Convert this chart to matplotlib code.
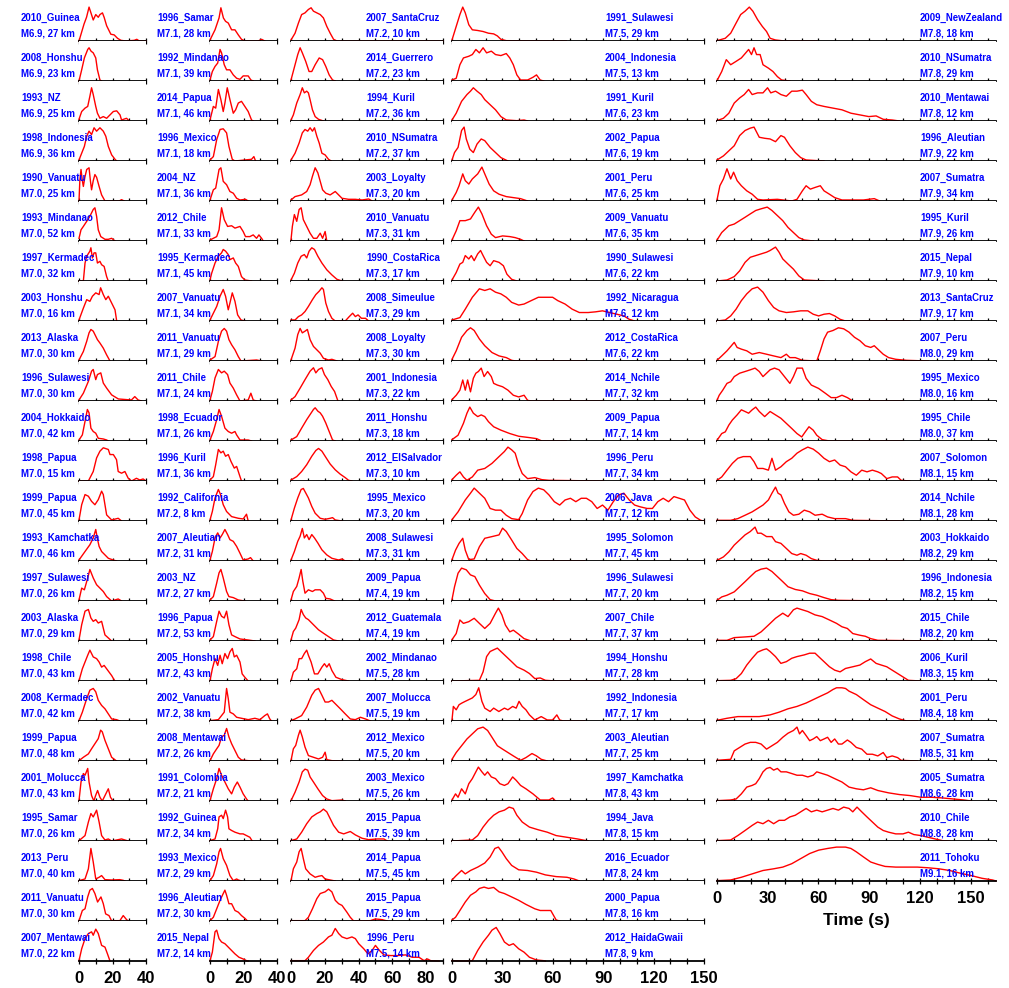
import matplotlib
matplotlib.use("Agg")
import matplotlib.pyplot as plt
from matplotlib import font_manager as fm

# ---- data: source time functions, (time s, normalised moment rate) ----
col1_names = ["2010_Guinea", "2008_Honshu", "1993_NZ", "1998_Indonesia", "1990_Vanuatu",
              "1993_Mindanao", "1997_Kermadec", "2003_Honshu", "2013_Alaska", "1996_Sulawesi",
              "2004_Hokkaido", "1998_Papua", "1999_Papua", "1993_Kamchatka", "1997_Sulawesi",
              "2003_Alaska", "1998_Chile", "2008_Kermadec", "1999_Papua", "2001_Molucca",
              "1995_Samar", "2013_Peru", "2011_Vanuatu", "2007_Mentawai"]
col1_mags = [6.9, 6.9, 6.9, 6.9] + [7.0] * 20
col1_depths = [27, 23, 25, 36, 25, 52, 32, 16, 30, 30, 42, 15, 45, 46, 26, 29, 43, 42, 48, 43,
               26, 40, 30, 22]
col1_curves = [
    [(0,0),(1.5,.25),(3,.5),(4.5,.7),(6,1),(7,.85),(8.5,.62),(10,.78),(11.5,.7),(12.5,.78),(14,.83),(15,.7),(16.5,.45),(18,.3),(19,.2),(21,.18),(23,.08),(25,.02),(28,0),(33,.02),(34.5,.05),(36,0),(40,0)],
    [(0,0),(1.6,.33),(3.2,.68),(5.2,.93),(6,.98),(7.2,.88),(8.5,.83),(10,.68),(11,.33),(12.5,.03),(13.5,0)],
    [(0,.05),(1.6,.28),(3.6,.38),(5.2,.43),(6.5,.73),(7.5,.98),(8.5,.78),(10,.43),(11,.23),(12.5,.08),(14.5,.13),(16.5,.08),(18.5,.18),(20.5,.28),(22.5,.3),(24.5,.18),(25.4,.03),(28.4,.08),(30,0)],
    [(0,.03),(2,.28),(3.2,.43),(4.6,.73),(6,.88),(7.5,.78),(9,.98),(10.5,.88),(12.5,.98),(14.5,.88),(16,.73),(17.5,.43),(19.5,.18),(21.5,.05),(22.5,0)],
    [(0,0),(0.5,.6),(1.2,.93),(2,.6),(2.6,.43),(3.5,.7),(4.6,.93),(6,.98),(6.8,.6),(7.5,.33),(8.5,.6),(9.5,.78),(10.5,.7),(12,.43),(13.5,.18),(15.5,0),(24,0),(25.4,.04),(27,0)],
    [(0,.08),(1.2,.33),(2.6,.43),(4.6,.58),(6.5,.73),(8.5,.93),(9.5,.98),(10.5,.73),(11.5,.33),(13,.13),(15.5,.05),(17.5,.05),(19.5,.08),(21.5,0)],
    [(0,0),(2.6,0),(3.6,.53),(4.6,.73),(6.5,.88),(7.1,.98),(8,.68),(9,.83),(10,.83),(11,.53),(12.5,.58),(13.5,.48),(15,.43),(16.5,.13),(17.5,0)],
    [(0,.03),(2.6,.38),(4.6,.63),(6.5,.58),(8,.73),(10,.83),(12,.78),(12.9,.98),(14.5,.78),(16,.63),(17.5,.73),(19.5,.53),(21.5,.33),(22.5,0)],
    [(0,.03),(2.6,.28),(4.6,.58),(6,.83),(7.1,.93),(8.5,.88),(10,.73),(11,.63),(12.5,.53),(14.5,.38),(16.5,.18),(18.5,0)],
    [(0,.03),(2.6,.23),(5.6,.58),(7.5,.88),(8.5,.93),(10,.63),(11,.78),(13,.83),(14.5,.53),(16.5,.38),(19.5,.18),(23.5,.06),(31.3,.03),(33.3,.13),(35.3,.03),(37.3,0)],
    [(0,.03),(2,.18),(3.6,.58),(5,.93),(6,.83),(7.1,.38),(8.5,.28),(10,.23),(11.5,.08),(14.5,.06),(16.5,.03),(17.5,0)],
    [(0,0),(5.6,0),(8.5,.28),(10.5,.68),(12.5,.88),(14.5,.98),(17.5,.93),(18.5,.78),(20.5,.78),(22.4,.63),(23.4,.28),(25.4,.23),(27.4,.28),(29.4,.08),(31.4,0),(34.3,.08),(36.3,.03),(38.3,.06),(40,0)],
    [(0,.03),(1.6,.48),(3.6,.78),(5.6,.73),(7.5,.58),(9.5,.48),(11.5,.63),(13.5,.88),(14.5,.78),(16.5,.18),(19.5,.03),(23.4,.08),(25.4,0)],
    [(0,.03),(3.6,.28),(6.5,.48),(8.5,.68),(10,.93),(10.9,.68),(12,.43),(13.5,.28),(15.5,.18),(17.5,.08),(20.4,.03),(22.4,0)],
    [(0,.03),(1.6,.38),(3.2,.33),(5.2,.68),(6.5,.93),(8.5,.68),(10.5,.48),(12.5,.38),(14.5,.28),(16.5,.13),(19.5,0),(23.4,.06),(25.4,0)],
    [(0,.03),(1.6,.48),(3.6,.88),(5.6,.93),(7.1,.68),(8.5,.58),(10,.63),(11.5,.53),(13.5,.58),(15.5,.18),(19.5,0)],
    [(0,.01),(2,.36),(3.6,.56),(5.2,.76),(6.5,.91),(8.5,.71),(10.5,.66),(12,.56),(13.5,.41),(15,.46),(16.5,.36),(19.5,.16),(21.4,0)],
    [(0,.01),(2,.26),(4.6,.66),(6.5,.91),(8.5,.96),(10,.86),(11.5,.61),(13.5,.46),(15.5,.36),(17.5,.21),(19.5,.06),(22.4,.04),(24.4,0)],
    [(0,.01),(2.6,.11),(5.6,.21),(7.5,.36),(9.5,.51),(11.5,.66),(12.9,.91),(13.9,.86),(15.5,.61),(17.5,.36),(19.5,.11),(22.4,0)],
    [(0,.01),(1.2,.56),(2.6,.81),(3.6,.76),(5.2,.96),(6,.56),(7.5,.16),(8.9,0),(9.9,.16),(11.1,.31),(12.5,.11),(13.9,0),(15.5,.16),(17.5,.36),(18.8,.11),(20.4,0)],
    [(0,.01),(3.6,.16),(5.6,.56),(7.1,.81),(8.5,.71),(10.5,.91),(12,.56),(13.5,.16),(15.5,.03),(17.5,.06),(19.5,0),(25.4,.06),(29.4,0)],
    [(0,.01),(3.6,.06),(5.6,.36),(7.1,.96),(8.5,.56),(10,.06),(12,.11),(13.5,.16),(15.5,.04),(19.5,.03),(24.4,.04),(26.4,.02),(27.4,0)],
    [(0,.01),(2,.31),(3.6,.36),(5.2,.71),(6.5,.91),(8,.96),(9.5,.81),(11.1,.56),(13.1,.71),(14.5,.51),(15.9,.21),(17.9,.16),(19.4,.01),(24.4,.01),(26.4,.16),(28.4,.04),(29.4,0)],
    [(0,.01),(1.6,.36),(3.6,.66),(5.6,.81),(7.5,.86),(8.5,.76),(10,.94),(11.5,.81),(13.5,.46),(15.5,.41),(17,.21),(18.5,0)],
]

col2_names = ["1996_Samar", "1992_Mindanao", "2014_Papua", "1996_Mexico", "2004_NZ", "2012_Chile",
              "1995_Kermadec", "2007_Vanuatu", "2011_Vanuatu", "2011_Chile", "1998_Ecuador",
              "1996_Kuril", "1992_California", "2007_Aleutian", "2003_NZ", "1996_Papua",
              "2005_Honshu", "2002_Vanuatu", "2008_Mentawai", "1991_Colombia", "1992_Guinea",
              "1993_Mexico", "1996_Aleutian", "2015_Nepal"]
col2_mags = [7.1] * 12 + [7.2] * 12
col2_depths = [28, 39, 46, 18, 36, 33, 45, 34, 29, 24, 26, 36, 8, 31, 27, 53, 43, 38, 26, 21,
               34, 29, 30, 14]
col2_curves = [
    [(0,.03),(3,.33),(5.4,.68),(6.5,.98),(8,.68),(9.3,.58),(10.9,.53),(12.9,.33),(14.9,.33),(16.9,.18),(18.8,.05),(20.8,0),(28.8,0),(30.8,.05),(32.7,0)],
    [(0,.03),(1.4,.28),(3,.43),(4.6,.53),(6,.93),(6.9,.83),(8.5,.48),(9.9,.33),(11.9,.33),(13.9,.18),(15.9,.08),(17.9,.05),(19.8,.15),(22.8,.15),(24.4,.03),(25.8,0)],
    [(0,.03),(2,.43),(3.4,.38),(5,.93),(6.5,.63),(7.9,.28),(8.9,.53),(10.3,.98),(11.9,.63),(13.9,.23),(15.3,.33),(16.9,.53),(18.8,.58),(20.8,.43),(22.8,.28),(24.8,.03),(25.8,0)],
    [(0,.03),(2,.13),(4,.63),(6,.93),(7.9,.95),(9.9,.83),(11.3,.43),(13.3,.05),(14.9,0),(20.8,.03),(24.8,.05),(26.2,.13),(27.2,0)],
    [(0,.03),(2,.33),(3.4,.38),(5.4,.93),(6.5,.98),(7.9,.58),(9.9,.48),(11.9,.28),(13.9,.23),(15.9,.08),(17.9,.03),(21.2,.05),(22.8,0)],
    [(0,.03),(4,.13),(5.4,.33),(6.9,.98),(8.5,.63),(10.5,.43),(12.9,.45),(14.9,.38),(17.9,.43),(19.8,.28),(21.2,.13),(23.8,.13),(25.8,.18),(27.8,.08),(29.2,.18),(30.8,.08),(31.8,0)],
    [(0,.03),(1,.23),(3,.53),(5,.73),(6.9,.83),(7.9,.93),(9.3,.88),(10.9,.78),(11.9,.63),(13.9,.68),(15.3,.53),(16.9,.43),(18.8,.13),(20.8,.03),(24.8,0)],
    [(0,.03),(2,.23),(4,.43),(6,.73),(7.9,.93),(9.3,.73),(10.9,.33),(11.9,.53),(13.3,.83),(14.9,.58),(16.5,.18),(18.5,.03),(20.8,0)],
    [(0,.03),(3,.13),(5,.58),(6.9,.88),(8.5,.96),(9.9,.88),(11.3,.63),(12.9,.48),(14.9,.33),(16.9,.13),(18.5,0),(27.8,.03),(30.8,0)],
    [(0,.03),(1.4,.28),(3,.68),(5,.93),(6.9,.83),(8.5,.88),(10.5,.78),(11.9,.53),(13.9,.38),(15.9,.18),(17.9,0),(22.8,.03),(24.4,.23),(25.8,.03),(27.8,0)],
    [(0,.03),(2,.28),(4,.63),(5.4,.93),(6.9,.73),(8.9,.38),(10.9,.28),(12.9,.23),(14.9,.28),(15.9,.18),(17.9,.03),(22.8,.03),(24.8,0)],
    [(0,.03),(2,.13),(3.4,.48),(5,.93),(6.5,.83),(7.9,.88),(9.3,.73),(10.9,.78),(12.5,.58),(14.5,.38),(15.9,.43),(17.9,.13),(18.8,0)],
    [(0,.03),(1.4,.28),(3,.68),(5,.93),(6.3,.78),(7.9,.48),(9.9,.28),(12.9,.13),(16.9,.08),(19.8,.06),(21.8,.2),(22.8,0)],
    [(0,.03),(1.4,.28),(3,.68),(4.6,.83),(6,.68),(7.3,.78),(8.9,.93),(10.5,.78),(11.9,.63),(13.9,.58),(15.9,.43),(17.9,.23),(19.8,.03),(22.8,.06),(24.2,.1),(25.8,0)],
    [(0,.03),(2,.13),(4,.53),(5.4,.83),(6.5,.93),(7.9,.68),(9.9,.28),(11.3,.13),(13.9,.1),(16.9,.03),(20.8,0)],
    [(0,.03),(2,.13),(4,.58),(5.4,.88),(6.9,.73),(8.5,.68),(9.9,.88),(11.3,.48),(12.9,.18),(14.9,.13),(17.9,.06),(22.8,.03),(26.8,0)],
    [(0,.01),(1.4,.36),(3,.66),(4.6,.46),(6,.76),(7.3,.51),(8.9,.81),(10.5,.66),(11.9,.86),(13.3,.96),(14.5,.71),(15.9,.76),(17.9,.56),(19.2,.21),(20.8,.11),(22.8,0)],
    [(0,.01),(5,.04),(6.9,.16),(8.5,.26),(9.9,.96),(10.9,.66),(11.9,.26),(13.9,.21),(15.9,.11),(18.8,.08),(22.8,.04),(26.8,.08),(29.8,.04),(32.7,.16),(34.3,.21),(35.7,.06),(36.7,0)],
    [(0,.01),(2,.21),(4,.36),(5.4,.46),(6.9,.71),(8.5,.76),(9.9,.96),(11.3,.71),(12.9,.51),(14.9,.31),(16.9,.11),(18.8,.03),(22.8,.01),(30.8,0)],
    [(0,.01),(2,.36),(4,.66),(5.4,.96),(6.9,.76),(8.9,.56),(10.9,.36),(12.9,.21),(14.5,.41),(16.3,.56),(17.9,.41),(19.8,.21),(21.8,.06),(22.8,0)],
    [(0,.01),(3,.06),(4.6,.36),(5.4,.71),(6.9,.76),(7.9,.66),(9.3,.91),(10.5,.71),(11.3,.36),(12.9,.31),(14.9,.26),(17.9,.21),(19.8,.21),(21.8,.16),(23.8,.11),(25.2,0)],
    [(0,.01),(2,.16),(4,.51),(5.4,.86),(6.3,.96),(7.9,.66),(9.9,.46),(11.9,.16),(13.9,.01),(15.9,.06),(16.9,.03),(18.8,0)],
    [(0,.01),(2,.11),(4,.36),(6,.61),(7.9,.81),(8.9,.91),(9.9,.76),(11.3,.51),(12.9,.51),(14.9,.31),(16.9,.26),(18.8,.16),(20.8,.08),(22.4,0)],
    [(0,.01),(1.4,.26),(3,.86),(4,.91),(5.4,.66),(6.9,.56),(8.9,.51),(10.9,.41),(12.9,.31),(14.9,.21),(17.3,.11),(19.8,.06),(21.8,.01),(22.8,0)],
]

col3_names = ["2007_SantaCruz", "2014_Guerrero", "1994_Kuril", "2010_NSumatra", "2003_Loyalty",
              "2010_Vanuatu", "1990_CostaRica", "2008_Simeulue", "2008_Loyalty", "2001_Indonesia",
              "2011_Honshu", "2012_ElSalvador", "1995_Mexico", "2008_Sulawesi", "2009_Papua",
              "2012_Guatemala", "2002_Mindanao", "2007_Molucca", "2012_Mexico", "2003_Mexico",
              "2015_Papua", "2014_Papua", "2015_Papua", "1996_Peru"]
col3_mags = [7.2] * 4 + [7.3] * 10 + [7.4] * 2 + [7.5] * 8
col3_depths = [10, 23, 36, 37, 20, 31, 17, 29, 30, 22, 18, 10, 20, 31, 19, 19, 28, 19, 20, 26,
               39, 45, 29, 14]
col3_curves = [
    [(0,.03),(2.4,.23),(4.4,.53),(6.3,.78),(8.3,.83),(10.3,.93),(11.9,.98),(13.3,.88),(15.3,.83),(17.3,.78),(19.2,.68),(21.2,.43),(23.2,.23),(25.2,.05),(27.2,0),(90,0)],
    [(0,.03),(2.4,.48),(4,.78),(5.4,.98),(6.7,.83),(8.7,.58),(10.7,.28),(12.3,.28),(14.3,.48),(16.7,.68),(18.7,.63),(20.6,.43),(22.6,.18),(24.6,.03),(26.2,0)],
    [(0,.03),(1.4,.18),(3.4,.53),(5.4,.78),(6.7,.98),(7.9,.83),(9.3,.88),(10.3,.83),(11.3,.63),(12.7,.33),(14.3,.13),(16.3,.05),(19.2,0)],
    [(0,.03),(2.4,.23),(4.8,.53),(6.7,.83),(8.3,.93),(9.9,.88),(11.3,.98),(12.7,.88),(13.9,.98),(15.3,.73),(16.7,.53),(18.3,.23),(20.2,.18),(22.2,.05),(23.8,0)],
    [(0,.03),(2.4,.13),(6.3,.18),(9.3,.28),(11.3,.48),(12.7,.73),(14.3,.98),(15.9,.83),(17.3,.58),(18.7,.33),(20.6,.23),(23.2,.18),(26.2,.28),(28.2,.18),(30.2,.08),(34.1,.05),(38.1,.05),(42.1,.03),(46,.06),(48,0)],
    [(0,.03),(0.8,.43),(2,.78),(3.4,.58),(4.8,.93),(6,.98),(7.3,.63),(9.3,.43),(11.3,.23),(13.3,.08),(15.3,.08),(17.3,.23),(18.7,.08),(20.2,.28),(21.2,0)],
    [(0,.03),(2,.23),(4,.53),(6,.73),(7.9,.78),(9.3,.68),(10.7,.88),(12.3,.98),(13.9,.93),(15.9,.73),(18.3,.53),(21.2,.33),(24.2,.18),(27.2,.05),(30.2,0)],
    [(0,.03),(2.4,.03),(4.4,.13),(6.3,.18),(8.3,.28),(10.3,.43),(12.7,.63),(14.7,.78),(16.7,.88),(18.3,.98),(19.2,.93),(20.6,.53),(22.2,.28),(24.2,.08),(26.2,0),(32.1,0),(34.5,.13),(36.5,.23),(38.1,.13),(39.7,.18),(41.7,.08),(44.1,.08),(46,0)],
    [(0,.03),(2.4,.38),(4,.78),(5.4,.96),(6.7,.83),(8.3,.88),(9.7,.93),(11.3,.63),(13.3,.43),(15.3,.33),(17.3,.23),(19.2,.08),(22.2,.03),(24.2,.05),(27.2,0)],
    [(0,.03),(2.4,.13),(5.4,.38),(8.3,.63),(11.3,.88),(13.3,.98),(14.7,.83),(16.3,.93),(18.3,.98),(19.8,.78),(21.8,.63),(23.8,.43),(25.8,.28),(27.8,0)],
    [(0,.03),(3.4,.13),(6.3,.38),(9.3,.63),(11.3,.78),(13.3,.93),(14.3,.98),(15.9,.88),(17.3,.83),(18.7,.73),(20.6,.53),(22.6,.28),(24.6,.03),(26.2,0)],
    [(0,.03),(3.4,.13),(6.3,.28),(9.3,.48),(12.3,.73),(14.7,.9),(16.3,.96),(18.3,.88),(20.6,.7),(23.2,.5),(26.2,.33),(29.2,.2),(32.1,.1),(34.1,.02),(36.1,0)],
    [(0,.03),(2,.38),(4,.68),(6,.93),(7.3,.96),(8.7,.83),(10.3,.68),(12.3,.43),(14.3,.23),(17.3,.08),(20.2,.05),(23.2,.08),(24.6,.1),(26.2,.03),(30.2,0)],
    [(0,.03),(2,.28),(4,.58),(5.4,.73),(6.7,.96),(7.9,.68),(9.3,.78),(10.7,.63),(12.3,.78),(13.9,.68),(15.9,.53),(18.3,.33),(21.2,.18),(24.2,.08),(28.2,.03),(30.2,.06),(32.1,0),(36.1,0)],
    [(0,.03),(1.4,.28),(3.4,.43),(4.8,.68),(6,.93),(7,.58),(8.3,.23),(10.3,.33),(12.7,.28),(14.3,.33),(17.3,.33),(19.2,.23),(20.6,.08),(23.2,.06),(25.8,0)],
    [(0,.03),(1.4,.28),(2.8,.38),(4.8,.63),(6,.93),(7.3,.78),(8.7,.68),(10.3,.63),(12.3,.53),(14.3,.43),(16.3,.33),(19.2,.23),(22.2,.13),(25.2,.03),(28.2,0)],
    [(0,.01),(1.4,.26),(3.4,.36),(4.8,.66),(6.3,.66),(7.9,.81),(9.3,.91),(10.3,.76),(11.9,.56),(13.9,.21),(15.9,.21),(18.3,.41),(19.8,.51),(21.2,.41),(22.6,.51),(24.2,.31),(26.6,.11),(30.2,.04),(34.1,0)],
    [(0,.01),(2.4,.06),(6.3,.16),(9.3,.41),(12.3,.76),(14.3,.91),(16.3,.96),(18.3,.76),(20.2,.56),(22.2,.56),(24.2,.61),(26.2,.51),(29.2,.36),(32.1,.21),(35.1,.06),(38.1,.04),(41.1,.11),(44.1,.06),(47,0)],
    [(0,.01),(1.4,.36),(2.8,.46),(4.4,.76),(5.4,.91),(6.7,.71),(8.3,.41),(10.3,.16),(13.3,.11),(16.3,.06),(18.7,.11),(20.2,.26),(21.2,.04),(24.2,.01),(30.2,0)],
    [(0,.01),(2.4,.26),(4.8,.56),(6.7,.86),(8.3,.94),(9.9,.91),(11.3,.71),(13.3,.56),(15.9,.36),(18.7,.16),(21.2,.06),(24.2,.01),(30.2,.03),(32.1,0)],
    [(0,.01),(3.4,.06),(6.3,.26),(9.3,.51),(12.3,.71),(15.3,.81),(17.3,.86),(19.2,.94),(21.2,.86),(23.2,.66),(25.2,.46),(28.2,.26),(31.2,.21),(35.1,.28),(38.1,.18),(42.1,.08),(46,.04),(51,.06),(55,.06),(57,0)],
    [(0,.01),(1.4,.36),(3.4,.56),(4.8,.86),(6,.96),(7.3,.66),(8.7,.36),(11.3,.21),(14.3,.11),(16.3,.14),(18.3,.16),(20.2,.06),(23.2,.03),(26.2,0)],
    [(0,.01),(8.3,.01),(10.3,.11),(12.7,.36),(15.3,.66),(17.3,.81),(20.2,.86),(22.2,.94),(24.2,.86),(26.2,.61),(28.2,.51),(30.2,.46),(33.1,.26),(35.1,.11),(37.1,0),(47,.01),(50,.06),(54,.04),(57,0)],
    [(0,.01),(8.3,.01),(10.3,.11),(13.3,.31),(16.3,.46),(19.2,.56),(22.2,.71),(24.2,.76),(26.2,.96),(28.2,.81),(30.2,.71),(33.1,.66),(36.1,.71),(38.1,.66),(40.1,.51),(43.1,.36),(45.6,.21),(48,.31),(50,.46),(52.4,.31),(55,.18),(59,.16),(62.9,.16),(67.9,.18),(71.8,.11),(75.8,.11),(78.8,.01),(80.8,.06),(82.7,.01),(87.7,0)],
]

col4_names = ["1991_Sulawesi", "2004_Indonesia", "1991_Kuril", "2002_Papua", "2001_Peru",
              "2009_Vanuatu", "1990_Sulawesi", "1992_Nicaragua", "2012_CostaRica", "2014_Nchile",
              "2009_Papua", "1996_Peru", "2006_Java", "1995_Solomon", "1996_Sulawesi",
              "2007_Chile", "1994_Honshu", "1992_Indonesia", "2003_Aleutian", "1997_Kamchatka",
              "1994_Java", "2016_Ecuador", "2000_Papua", "2012_HaidaGwaii"]
col4_mags = [7.5] * 2 + [7.6] * 7 + [7.7] * 10 + [7.8] * 5
col4_depths = [29, 13, 23, 19, 25, 35, 22, 12, 22, 32, 14, 34, 12, 45, 20, 37, 28, 17, 25, 43,
               15, 24, 16, 9]
col4_curves = [
    [(0,.03),(2.5,.43),(4.7,.78),(6.4,1),(7.9,.83),(10,.48),(12.1,.33),(15.3,.31),(18.5,.28),(21.7,.23),(24.8,.21),(27,.15),(29.1,.05),(32.3,.01),(68,0)],
    [(0,.03),(2.5,.08),(4.7,.48),(6.8,.68),(10,.73),(12.1,.78),(14.2,.93),(16.3,.83),(18.5,.98),(20.6,.83),(23.4,.88),(25.9,.78),(29.1,.75),(32.3,.81),(34.4,.68),(36.5,.48),(38.6,.18),(40.8,.03),(45,.03),(48.2,.11),(50.3,.18),(52.5,.03),(54.6,0)],
    [(0,.03),(2.5,.23),(5.7,.58),(8.9,.78),(11,.88),(12.7,.98),(14.9,.88),(17.4,.78),(19.5,.63),(22.7,.48),(25.9,.33),(29.1,.13),(32.3,.03),(38.6,.01),(42.9,.03),(45,0)],
    [(0,.03),(1.5,.25),(3.6,.4),(5.7,.9),(7.2,1),(8.5,.65),(10.6,.35),(12.7,.25),(14.9,.5),(17.4,.65),(19.5,.6),(22.7,.4),(25.9,.25),(29.1,.1),(33.3,0)],
    [(0,.03),(2.5,.25),(4.2,.45),(6.4,.8),(7.9,.6),(10,.5),(12.1,.65),(15.3,.8),(17.8,1),(19.5,.8),(22.1,.5),(24.8,.3),(28,.2),(32.3,.13),(36.5,.1),(40.8,.07),(45,0)],
    [(0,.03),(2.5,.3),(4.7,.6),(7.9,.6),(11,.65),(13.6,.85),(15.7,1),(17.8,.8),(20.6,.45),(23.4,.2),(25.9,.1),(30.1,.15),(34.4,.13),(37.6,.1),(40.8,.05),(42.9,0)],
    [(0,.03),(2.5,.25),(4.7,.5),(6.4,.55),(7.9,.75),(10,.65),(11.5,.75),(13.2,.6),(15.3,.8),(17,.9),(18.5,.75),(20.6,.55),(22.7,.45),(24.8,.6),(28,.55),(30.6,.45),(32.7,.2),(35.5,.05),(38.6,0)],
    [(0,.03),(4.7,.1),(7.9,.35),(12.1,.7),(16.3,.95),(19.5,.9),(22.7,.95),(25.9,.85),(29.1,.8),(32.3,.7),(35.5,.55),(39.7,.47),(42.9,.5),(47.1,.6),(51.4,.7),(55.6,.7),(59.9,.7),(63,.6),(67.3,.5),(71.5,.35),(75.8,.25),(81.1,.25),(85.4,.27),(89.6,.3),(93.8,.25),(98.1,.2),(102.3,.15),(105.5,.05),(108.7,0)],
    [(0,.05),(2.5,.3),(5.7,.7),(8.9,.9),(11,.98),(13.2,.9),(16.3,.65),(19.5,.45),(23.8,.25),(28,.15),(32.3,.1),(35.5,.02),(38,0),(79,0)],
    [(0,.04),(2.5,.17),(4.7,.32),(6.4,.62),(7.9,.32),(9.3,.62),(11,.27),(12.7,.67),(14.2,.82),(15.7,.87),(17.4,.97),(19.1,.72),(21.2,.87),(23.4,.72),(24.8,.52),(27,.47),(30.1,.42),(33.3,.32),(36.5,.17),(39.7,.12),(42.9,.17),(45,.02),(47,0),(90,0)],
    [(0,.04),(3.6,.17),(6.8,.52),(8.9,.82),(10.6,1),(12.7,.82),(15.3,.72),(17.4,.77),(19.5,.72),(21.7,.57),(24.8,.42),(29.1,.32),(34.4,.22),(39.7,.14),(46.1,.1),(50.3,.07),(53.5,0),(68,0)],
    [(0,.04),(2.5,.17),(4.7,.27),(6.8,.12),(8.9,.02),(12.1,.12),(15.3,.32),(19.5,.37),(23.8,.52),(28,.72),(31.2,.87),(33.3,1),(35.5,.92),(37.6,.82),(39.7,.47),(41.8,.22),(45,.07),(49.3,.1),(53.5,.04),(57.7,.02),(90,0)],
    [(0,.04),(3.6,.27),(7.9,.62),(11,.82),(13.2,.97),(15.3,.87),(17.4,.77),(19.5,.67),(22.7,.37),(25.9,.32),(29.1,.32),(32.3,.17),(35.5,.07),(39.7,.04),(41.8,.22),(45,.62),(48.2,.87),(51.4,.97),(54.6,.92),(57.7,.77),(60.9,.57),(64.1,.47),(67.3,.62),(70.5,.67),(73.7,.57),(76.9,.67),(80,.67),(83.2,.57),(86.4,.37),(89.6,.47),(92.8,.32),(96,.57),(99.2,.77),(102.3,.82),(105.5,.62),(108.7,.47),(111.9,.42),(116.1,.37),(119.3,.37),(122.5,.57),(125.7,.67),(128.9,.57),(132.1,.72),(135.3,.67),(138.4,.62),(141.6,.32),(144.8,.12),(148,.02),(150,0)],
    [(0,.04),(2.1,.32),(4.2,.52),(6.4,.67),(7.9,.32),(10,.04),(13.2,.06),(16.3,.42),(19.5,.67),(23.8,.72),(28,.77),(30.1,.97),(32.3,.87),(35.5,.62),(38.6,.37),(41.8,.22),(45,.04),(47,0),(79,0)],
    [(0,.04),(1.5,.42),(3.6,.82),(5.7,.97),(8.5,.92),(11,.77),(13.6,.72),(16.3,.47),(19.5,.22),(22.7,.04),(25.9,0),(64,0)],
    [(0,.04),(2.5,.22),(4.7,.62),(6.8,.52),(10,.57),(13.2,.67),(16.3,.52),(19.5,.37),(22.7,.52),(25.9,.82),(27.6,.97),(29.7,.77),(31.8,.47),(34.4,.27),(36.5,.32),(39.7,.2),(42.9,.07),(47.1,0),(79,0)],
    [(0,0),(16.3,.02),(18.5,.27),(20.6,.72),(22.7,.87),(24.8,.92),(27,.97),(29.1,.87),(32.3,.72),(35.5,.57),(38.6,.42),(42.9,.32),(46.1,.22),(49.3,.07),(52.5,.09),(55.6,.02),(62,0),(100,0)],
    [(0,.03),(0.8,.43),(2.5,.33),(4.2,.48),(5.9,.53),(7.9,.58),(10,.63),(12.1,.68),(14.2,.78),(15.9,.98),(17.8,.58),(19.5,.38),(22.7,.28),(24.8,.38),(27.9,.28),(31.2,.38),(33.3,.33),(36.1,.43),(38.2,.38),(39.9,.58),(41.8,.43),(44,.33),(46.1,.18),(49.3,.03),(53.1,.13),(56.7,.03),(59.9,.03),(62.4,.18),(64.1,.03),(66.2,0),(79,0)],
    [(0,.05),(2.5,.25),(5.7,.45),(8.9,.65),(12.1,.8),(15.3,.95),(18.5,1),(21.2,.9),(23.8,.7),(27,.45),(30.1,.35),(33.3,.25),(36.5,.15),(40.8,.02),(44,.1),(47.6,.22),(50.3,.15),(53.1,.05),(56.7,0)],
    [(0,.03),(2.1,.21),(3.6,.11),(5.7,.36),(7.9,.21),(10,.51),(12.1,.66),(14.2,.86),(15.7,1),(17.8,.86),(19.5,.76),(21.2,.86),(23.4,.71),(25.9,.66),(28.5,.51),(31.2,.46),(33.3,.51),(36.1,.71),(38.2,.61),(40.8,.46),(44,.36),(48.2,.21),(52.5,.03),(57.7,.03),(59.9,.09),(61.6,0)],
    [(0,0),(12.1,.03),(15.3,.16),(18.5,.41),(21.7,.61),(24.8,.76),(28,.86),(31.2,.91),(34,1),(36.5,.96),(38.6,.76),(41.8,.56),(46.1,.41),(51.4,.33),(56.7,.26),(62,.16),(68.4,.11),(74.7,.06),(81.1,0)],
    [(0,.03),(2.5,.16),(5.7,.31),(7.9,.21),(11,.31),(15.3,.41),(19.5,.53),(22.7,.71),(25.5,.96),(27.6,1),(29.7,.86),(32.3,.66),(35.5,.46),(39.7,.33),(45,.31),(50.3,.26),(55.6,.18),(62,.13),(68.4,.11),(72.6,.06),(75.8,0)],
    [(0,.03),(2.1,.11),(4.7,.31),(7.9,.56),(11,.76),(14.2,.86),(16.3,.96),(19.1,1),(21.7,.96),(24.8,.99),(28,.86),(31.2,.81),(35.5,.71),(39.7,.61),(44,.49),(49.3,.36),(52.5,.31),(55.6,.31),(58.8,.31),(60.5,.16),(62,.03),(64.1,0)],
    [(0,.01),(6.8,0),(12.1,.01),(15.3,.31),(18.5,.56),(21.7,.76),(23.8,.91),(26.3,.99),(28.5,.81),(31.2,.56),(34,.46),(36.5,.51),(39.7,.36),(42.9,.26),(46.1,.11),(50.3,.03),(54.5,.01),(55.6,0)],
]

col5_names = ["2009_NewZealand", "2010_NSumatra", "2010_Mentawai", "1996_Aleutian",
              "2007_Sumatra", "1995_Kuril", "2015_Nepal", "2013_SantaCruz", "2007_Peru",
              "1995_Mexico", "1995_Chile", "2007_Solomon", "2014_Nchile", "2003_Hokkaido",
              "1996_Indonesia", "2015_Chile", "2006_Kuril", "2001_Peru", "2007_Sumatra",
              "2005_Sumatra", "2010_Chile", "2011_Tohoku"]
col5_mags = [7.8, 7.8, 7.8, 7.9, 7.9, 7.9, 7.9, 7.9, 8.0, 8.0, 8.0, 8.1, 8.1, 8.2, 8.2, 8.2,
             8.3, 8.4, 8.5, 8.6, 8.8, 9.1]
col5_depths = [18, 29, 12, 22, 34, 26, 10, 17, 29, 16, 37, 15, 28, 29, 15, 20, 15, 18, 31, 28,
               28, 16]
col5_curves = [
    [(0,.01),(4.9,.08),(8.1,.23),(11.3,.53),(14,.78),(16.6,.88),(19.1,1),(21.2,.88),(24,.63),(26.8,.43),(29.3,.28),(31.4,.08),(34.6,.03),(39.9,0),(59,0)],
    [(0,.01),(2.8,.28),(5.5,.63),(8.1,.48),(11.3,.58),(14.4,.68),(17,.83),(18.7,.93),(20.4,.78),(21.9,.98),(23.4,.78),(25.5,.78),(27.2,.48),(30.4,.38),(33.1,.28),(35.7,.13),(38.2,.03),(43,0)],
    [(0,.01),(3.8,.08),(7,.23),(10.2,.53),(13.4,.68),(16.1,.78),(18.7,.93),(20.8,.78),(24,.83),(27.2,.83),(29.9,.98),(31.8,.83),(34.6,.88),(37.8,.78),(41,.73),(44.2,.88),(47.3,.88),(50.5,.91),(52.7,.78),(55.8,.58),(59,.48),(63.3,.43),(68.6,.38),(73.9,.33),(79.2,.23),(84.5,.18),(89.8,.13),(94.1,.15),(98.3,.05),(103.6,.03),(107.9,0)],
    [(0,.03),(3.8,.15),(7,.3),(10.2,.45),(13.4,.75),(16.6,.9),(19.7,.97),(21.9,1),(25,.7),(28.2,.67),(31.4,.65),(34.6,.57),(37.8,.75),(39.9,.7),(43.1,.45),(46.3,.25),(49.5,.1),(52.7,.03),(63.3,0)],
    [(0,.03),(1.7,.45),(3.8,.65),(5.9,.95),(8.1,.65),(9.8,.85),(11.9,.6),(14.4,.45),(17.6,.3),(20.8,.2),(24,.05),(27.2,.03),(35.7,.05),(44.2,0),(47.3,.05),(50.5,.3),(52.7,.45),(55.2,.35),(58,.4),(61.1,.45),(63.3,.3),(66.5,.2),(69.6,.1),(73.9,.03),(86.6,.03),(93,.07),(96.2,0)],
    [(0,.03),(2.8,.25),(4.9,.35),(7,.45),(10.2,.5),(13.4,.6),(16.6,.7),(19.7,.8),(22.9,.9),(26.1,.95),(29.7,1),(32.5,.9),(35.7,.75),(38.9,.6),(42,.4),(45.2,.25),(48.4,.1),(51.6,.03),(57,0)],
    [(0,0),(5.9,.03),(10.2,.13),(13.4,.3),(16.6,.55),(19.7,.7),(22.9,.75),(26.1,.8),(29.3,.85),(31.4,.9),(34.6,1),(36.7,.85),(38.9,.65),(42,.5),(45.2,.35),(48.4,.15),(51.6,.03),(63.3,0)],
    [(0,0),(4.9,.03),(8.1,.15),(11.3,.35),(14.4,.6),(17.6,.8),(20.8,.95),(24,1),(27.2,.85),(30.4,.6),(33.5,.4),(36.7,.3),(41,.25),(45.2,.27),(49.5,.3),(53.7,.3),(56.9,.2),(60.1,.15),(63.3,.2),(66.5,.22),(69.6,.15),(72.8,.05),(76,0),(114,0)],
    [(0,.02),(2.8,.15),(5.9,.3),(8.5,.45),(10.2,.55),(11.9,.4),(14.4,.35),(17.6,.3),(20.8,.2),(25,.25),(29.3,.2),(33.5,.15),(37.8,.1),(41,.2),(43.1,.1),(46.3,.1),(50.5,.02),(59,0),(61.1,.3),(63.3,.65),(65.4,.85),(68.6,.9),(71.8,.98),(74.9,.95),(78.1,.85),(81.3,.7),(84.5,.6),(87.7,.45),(90.9,.4),(93,.45),(95.1,.35),(98.3,.2),(101.5,.1),(105.7,.05),(112.1,.02),(125,0)],
    [(0,.02),(1.3,.17),(3.4,.32),(5.9,.52),(8.1,.57),(10.2,.72),(13.4,.82),(16.6,.87),(19.7,.92),(22.5,.97),(25,.87),(27.2,.72),(29.3,.82),(31.4,.92),(34,.97),(36.7,.92),(39.9,.72),(43.1,.52),(45.2,.72),(47.3,.97),(50.5,.97),(52.7,.67),(55.8,.47),(60.1,.37),(64.3,.22),(67.5,.1),(70.7,.1),(73.9,.17),(77.1,.1),(80.3,0),(110,0)],
    [(0,.02),(2.8,.22),(4.9,.27),(7,.47),(9.1,.62),(11.9,.77),(14.4,.92),(16.6,.87),(18.7,.82),(20.8,.92),(22.9,1),(25,.87),(28.2,.72),(31.4,.87),(34.6,.77),(37.8,.67),(41,.52),(44.2,.37),(47.3,.22),(50.1,.12),(52.2,.27),(54.4,.42),(56.9,.32),(59,.17),(62.2,.04),(66.5,0),(110,0)],
    [(0,.02),(2.8,.12),(5.9,.32),(9.1,.52),(12.3,.67),(15.5,.72),(19.7,.72),(21.9,.57),(24,.37),(27.2,.37),(30.4,.32),(32.5,.67),(34.6,.32),(37.8,.42),(41,.57),(44.2,.67),(47.3,.82),(50.5,.92),(53.7,1),(56.9,.94),(60.1,.82),(63.3,.67),(66.5,.57),(69.6,.62),(72.8,.47),(76,.42),(79.2,.27),(82.4,.17),(85.6,.32),(88.7,.27),(91.9,.32),(95.1,.27),(97.2,.22),(100.4,.07),(103.6,.12),(106.8,.12),(108.9,.02),(114,0)],
    [(0,.02),(8.1,.02),(12.3,.07),(16.6,.17),(20.8,.27),(24,.37),(27.2,.47),(30.4,.62),(32.5,.82),(34.6,1),(36.1,.82),(37.8,.77),(39.9,.52),(42.5,.27),(45.2,.17),(48.4,.2),(51.6,.32),(54.8,.27),(58,.17),(62.2,.2),(65.4,.12),(69.6,.07),(76,.07),(80.3,.02),(110,0)],
    [(0,.02),(3.8,.12),(7,.27),(10.2,.47),(13.4,.62),(16.6,.77),(19.7,.87),(22.5,1),(24,.82),(26.1,.82),(29.3,.72),(32.5,.72),(34.6,.57),(37.8,.52),(41,.37),(44.2,.22),(47.3,.17),(49.5,.22),(52.7,.17),(55.8,.07),(59,.02),(63.3,0),(110,0)],
    [(0,.02),(2.8,.12),(5.9,.17),(10.2,.27),(13.4,.42),(16.6,.57),(19.7,.72),(22.9,.87),(26.1,.94),(29.3,.97),(32.5,.87),(35.7,.72),(38.9,.57),(42,.42),(46.3,.34),(50.5,.3),(54.8,.22),(59,.17),(63.3,.1),(67.5,.04),(71.8,.02),(100,0)],
    [(0,.02),(5.9,.02),(10.2,.1),(16.6,.12),(21.9,.14),(26.1,.27),(30.4,.47),(34.6,.67),(38.9,.82),(42,.72),(45.2,.92),(47.3,.97),(50.5,.92),(53.7,.87),(58,.77),(62.2,.72),(66.5,.62),(70.7,.52),(73.9,.42),(77.1,.37),(80.3,.22),(84.5,.17),(87.7,.14),(90.9,.07),(95.1,.02),(133,0)],
    [(0,.01),(8.1,.02),(11.3,.07),(14.4,.22),(17.6,.47),(20.8,.67),(24,.85),(27.2,.92),(29.3,.95),(31.4,.87),(34.6,.72),(37.8,.52),(41,.57),(44.2,.67),(47.3,.72),(51.6,.77),(54.8,.82),(58,.82),(60.1,.72),(63.3,.57),(66.5,.42),(69.6,.32),(72.8,.27),(76,.37),(80.3,.42),(84.5,.47),(87.7,.57),(90.9,.65),(94.1,.52),(97.2,.47),(100.4,.42),(103.6,.32),(106.8,.22),(110,.12),(113.2,.02),(120.6,0)],
    [(0,.02),(5.9,.08),(12.3,.13),(18.7,.13),(25,.13),(31.4,.18),(36.7,.26),(42,.36),(47.3,.43),(52.7,.53),(56.9,.63),(61.1,.73),(65.4,.83),(68.6,.93),(70.7,.98),(73.9,.98),(76,.96),(78.1,.88),(82.4,.78),(86.6,.63),(90.9,.48),(95.1,.38),(99.4,.28),(103.6,.15),(107.9,.06),(112.1,0),(118.5,0)],
    [(0,.02),(8.1,.05),(10.2,.3),(13.4,.4),(16.6,.5),(19.7,.55),(22.9,.55),(26.1,.5),(29.3,.35),(32.5,.45),(35.7,.55),(38.9,.7),(42,.82),(45.2,.9),(47.3,1),(48.8,.8),(50.5,.9),(52.7,.75),(54.8,.6),(56.9,.65),(59,.72),(61.1,.6),(63.3,.65),(65.4,.7),(67.5,.55),(69.6,.65),(71.8,.5),(73.9,.5),(77.1,.62),(79.2,.55),(82.4,.4),(85.6,.35),(88.7,.2),(91.9,.2),(95.1,.15),(98.3,.25),(100.4,.1),(103.6,.15),(106.8,.1),(108.9,.02),(118.5,0)],
    [(0,.01),(8.1,.03),(11.3,.06),(14.4,.21),(17.6,.41),(20.8,.46),(22.9,.51),(25,.66),(27.2,.86),(29.3,.96),(31.4,.99),(33.5,.91),(35.7,.96),(37.8,.86),(41,.86),(44.2,.81),(47.3,.76),(50.5,.76),(53.7,.71),(56.9,.76),(59,.86),(62.2,.81),(65.4,.76),(69.6,.66),(73.9,.56),(78.1,.41),(82.4,.36),(86.6,.33),(90.9,.39),(95.1,.31),(101.5,.24),(107.9,.19),(114.2,.16),(120.6,.11),(127,.11),(133.3,.09),(139.7,.06),(146,.03),(150.3,0)],
    [(0,.01),(8.1,.03),(12.3,.16),(16.6,.31),(20.8,.46),(24,.56),(27.2,.51),(30.4,.61),(33.5,.51),(36.7,.61),(39.9,.61),(43.1,.71),(46.3,.76),(49.5,.86),(52.7,.96),(55.8,.86),(59,.91),(62.2,.86),(65.4,.91),(68.6,.96),(71.8,.91),(74.9,1),(78.1,.96),(80.3,.86),(82.8,1),(85.6,.86),(88.7,.71),(91.9,.56),(95.1,.41),(98.3,.31),(101.5,.26),(105.7,.21),(110,.21),(113.2,.26),(116.4,.19),(120.6,.16),(124.8,.11),(129.1,.06),(133.3,.01),(137.6,0)],
    [(0,.01),(8.1,.03),(14.4,.11),(20.8,.21),(27.2,.31),(33.5,.36),(38.9,.41),(44.2,.51),(49.5,.66),(54.8,.81),(60.1,.91),(65.4,.96),(70.7,1),(76,1),(79.2,.96),(82.4,.86),(86.6,.71),(90.9,.56),(95.1,.49),(99.4,.43),(105.7,.41),(112.1,.41),(118.5,.41),(124.8,.39),(131.2,.36),(137.6,.31),(143.9,.23),(150.3,.16),(156.7,.08),(163,.03),(165,0)],
]

# ---- layout (pixels on a 1009 x 988 canvas) ----
W, H = 1009, 988
ROW0, PITCH = 41, 40          # baseline of first row, row spacing
# names, mags, depths, curves, x0, width, xmax, label x, tick-label step
columns = [
    (col1_names, col1_mags, col1_depths, col1_curves, 79, 67, 40, 21, 20),
    (col2_names, col2_mags, col2_depths, col2_curves, 210, 67, 40, 157, 20),
    (col3_names, col3_mags, col3_depths, col3_curves, 291, 152, 90, 366, 20),
    (col4_names, col4_mags, col4_depths, col4_curves, 452, 252, 150, 605, 30),
    (col5_names, col5_mags, col5_depths, col5_curves, 717, 279, 165, 920, 30),
]

# a narrow face if one is installed, otherwise plain Liberation Sans a bit smaller
installed = {f.name for f in fm.fontManager.ttflist}
if 'Liberation Sans Narrow' in installed:
    label_font, label_size = ['Liberation Sans Narrow', 'DejaVu Sans'], 7.5
else:
    label_font, label_size = ['Liberation Sans', 'DejaVu Sans'], 6.9
tick_font = ['Liberation Sans', 'DejaVu Sans']

fig = plt.figure(figsize=(W / 100, H / 100), dpi=100)

for names, mags, depths, curves, x0, w, xmax, lx, step in columns:
    n = len(names)
    for r in range(n):
        yb = ROW0 + PITCH * r
        ax = fig.add_axes([x0 / W, 1 - yb / H, w / W, PITCH / H])
        t = [p[0] for p in curves[r]]
        a = [p[1] for p in curves[r]]
        ax.plot(t, a, color='#ff0000', lw=1.0, clip_on=False)
        ax.set_xlim(0, xmax)
        ax.set_ylim(0, 1.18)
        for s in ['left', 'right', 'top']:
            ax.spines[s].set_visible(False)
        ax.spines['bottom'].set_linewidth(1.3)
        ax.set_yticks([])
        ticks = list(range(0, xmax + 1, 10))
        ax.set_xticks(ticks)
        ax.tick_params(axis='x', direction='inout', length=5, width=0.9, pad=4.5)
        if r == n - 1:
            ax.set_xticklabels([str(v) if v % step == 0 else '' for v in ticks],
                               family=tick_font, fontsize=12, fontweight='bold')
        else:
            ax.set_xticklabels([])
        fig.text(lx / W, 1 - (yb - 23) / H, names[r], color='#0000ff', fontsize=label_size,
                 fontweight='bold', family=label_font, ha='left', va='center', zorder=5)
        fig.text(lx / W, 1 - (yb - 8) / H, f"M{mags[r]:.1f}, {depths[r]} km", color='#0000ff',
                 fontsize=label_size, fontweight='bold', family=label_font, ha='left',
                 va='center', zorder=5)
        if xmax == 165 and r == n - 1:
            ax.set_xlabel('Time (s)', family=tick_font, fontsize=12.5, fontweight='bold',
                          labelpad=5)

fig.savefig('out.png', dpi=100)
